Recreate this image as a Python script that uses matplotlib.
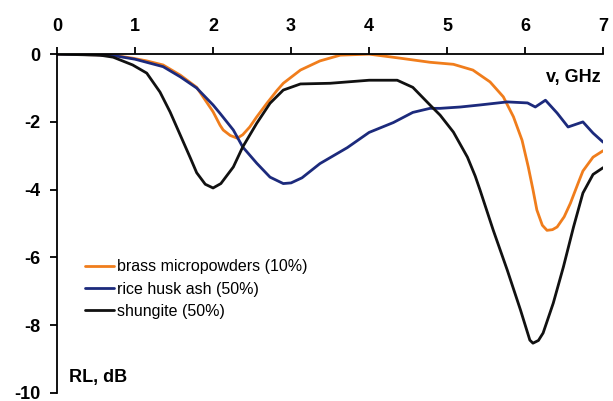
import matplotlib
matplotlib.use("Agg")
from matplotlib import pyplot as plt

# frequency (GHz) / reflection loss (dB)
brass_f = [0.0, 0.5, 0.77, 0.97, 1.15, 1.36, 1.58, 1.79, 2.0, 2.09, 2.13, 2.22, 2.31, 2.38, 2.47, 2.56,
           2.69, 2.82, 2.9, 3.12, 3.37, 3.63, 4.0, 4.4, 4.78, 5.08, 5.33, 5.55, 5.72, 5.85, 5.96, 6.04,
           6.1, 6.15, 6.22, 6.28, 6.35, 6.41, 6.5, 6.58, 6.68, 6.74, 6.87, 7.0]
brass_rl = [0.0, -0.02, -0.05, -0.12, -0.2, -0.32, -0.62, -0.98, -1.7, -2.1, -2.24, -2.4, -2.48, -2.38,
            -2.15, -1.85, -1.45, -1.07, -0.86, -0.47, -0.2, -0.03, 0.0, -0.12, -0.24, -0.3, -0.47,
            -0.82, -1.26, -1.85, -2.54, -3.33, -4.0, -4.6, -5.05, -5.2, -5.18, -5.1, -4.8, -4.4, -3.8,
            -3.45, -3.04, -2.85]

rice_f = [0.0, 0.5, 0.77, 1.0, 1.36, 1.58, 1.79, 2.0, 2.09, 2.26, 2.38, 2.56, 2.73, 2.9, 3.0, 3.14,
          3.37, 3.72, 4.0, 4.31, 4.56, 4.78, 4.91, 5.17, 5.42, 5.77, 6.03, 6.13, 6.26, 6.41, 6.55, 6.74,
          6.87, 7.0]
rice_rl = [0.0, -0.02, -0.06, -0.15, -0.37, -0.67, -1.0, -1.5, -1.75, -2.24, -2.74, -3.22, -3.63, -3.82,
           -3.8, -3.65, -3.23, -2.76, -2.31, -2.02, -1.72, -1.6, -1.6, -1.56, -1.5, -1.41, -1.44, -1.56,
           -1.36, -1.74, -2.15, -2.0, -2.33, -2.6]

shung_f = [0.0, 0.55, 0.72, 0.97, 1.15, 1.32, 1.45, 1.58, 1.71, 1.79, 1.9, 2.0, 2.1, 2.26, 2.38, 2.56,
           2.73, 2.9, 3.12, 3.5, 4.0, 4.36, 4.56, 4.78, 4.91, 5.08, 5.26, 5.36, 5.42, 5.59, 5.77, 5.94,
           6.06, 6.1, 6.17, 6.23, 6.36, 6.49, 6.62, 6.74, 6.87, 7.0]
shung_rl = [0.0, -0.03, -0.09, -0.32, -0.56, -1.12, -1.71, -2.39, -3.07, -3.5, -3.84, -3.95, -3.82,
            -3.33, -2.74, -2.04, -1.45, -1.06, -0.88, -0.86, -0.77, -0.77, -0.98, -1.5, -1.8, -2.3,
            -3.04, -3.6, -4.0, -5.19, -6.37, -7.55, -8.44, -8.53, -8.45, -8.23, -7.35, -6.28, -5.1,
            -4.1, -3.55, -3.35]

labels = ["brass micropowders (10%)", "rice husk ash (50%)", "shungite (50%)"]
colors = ["#f07d1c", "#1c2a7c", "#111111"]

plt.rcParams["font.family"] = ["Liberation Sans", "DejaVu Sans"]
plt.rcParams["axes.unicode_minus"] = False

fig = plt.figure(figsize=(6.13, 4.01), dpi=100)
ax = fig.add_axes([0.093, 0.02, 0.891, 0.845])

line_kw = dict(lw=2, solid_joinstyle="round", solid_capstyle="round")
ax.plot(brass_f, brass_rl, color=colors[0], label=labels[0], **line_kw)
ax.plot(rice_f, rice_rl, color=colors[1], label=labels[1], **line_kw)
ax.plot(shung_f, shung_rl, color=colors[2], label=labels[2], **line_kw)

ax.set_xlim(0, 7)
ax.set_ylim(-10, 0)
ax.set_xticks(range(0, 8))
ax.set_yticks(range(-10, 1, 2))

ax.spines["right"].set_visible(False)
ax.spines["bottom"].set_visible(False)
ax.spines["top"].set_linewidth(1.3)
ax.spines["left"].set_linewidth(1.3)

ax.xaxis.tick_top()
ax.tick_params(axis="x", direction="out", length=5, width=1.3, pad=9)
ax.tick_params(axis="y", direction="out", length=5, width=1.3, pad=7)
for t in ax.get_xticklabels() + ax.get_yticklabels():
    t.set_fontweight("bold")
    t.set_fontsize(13)

ax.text(0.995, 0.93, "v, GHz", transform=ax.transAxes, ha="right", va="center",
        fontsize=13, fontweight="bold")
ax.text(0.022, 0.045, "RL, dB", transform=ax.transAxes, ha="left", va="center",
        fontsize=13, fontweight="bold")

ax.legend(loc="lower left", bbox_to_anchor=(0.04, 0.2), frameon=False, fontsize=11.5,
          handlelength=1.8, handletextpad=0.2, labelspacing=0.45, borderaxespad=0)

fig.savefig("out.png", dpi=100)
